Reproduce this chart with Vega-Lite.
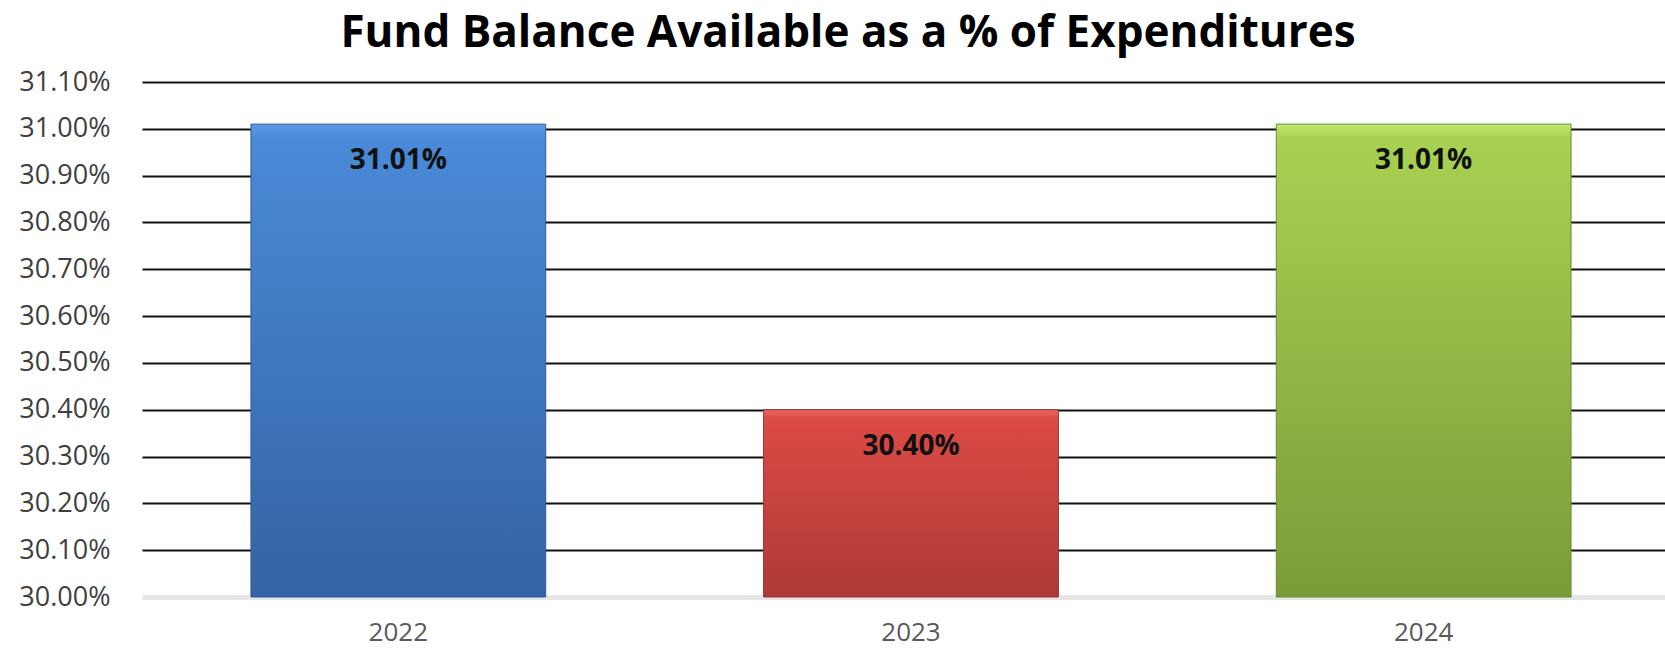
{
  "$schema": "https://vega.github.io/schema/vega-lite/v6.json",
  "autosize": "none",
  "padding": {"left": 142, "top": 82, "right": 0, "bottom": 51},
  "width": 1538,
  "height": 515,
  "background": "white",
  "title": {
    "text": "Fund Balance Available  as a % of Expenditures",
    "font": "Open Sans",
    "fontSize": 44,
    "fontWeight": "bold",
    "color": "#000000",
    "anchor": "middle",
    "dx": -63,
    "offset": 12
  },
  "data": {
    "values": [
      {"year": "2022", "value": 0.3101},
      {"year": "2023", "value": 0.3040},
      {"year": "2024", "value": 0.3101}
    ]
  },
  "encoding": {
    "x": {
      "field": "year",
      "type": "nominal",
      "sort": null,
      "scale": {"paddingInner": 0.425, "paddingOuter": 0.2125},
      "axis": {
        "title": null,
        "domain": false,
        "ticks": false,
        "labelAngle": 0,
        "labelFont": "Open Sans",
        "labelFontSize": 26,
        "labelColor": "#595959",
        "labelPadding": 22
      }
    },
    "y": {
      "field": "value",
      "type": "quantitative",
      "scale": {"domain": [0.30, 0.311], "zero": false, "nice": false},
      "axis": {
        "title": null,
        "domain": false,
        "ticks": false,
        "format": ".2%",
        "values": [0.300, 0.301, 0.302, 0.303, 0.304, 0.305, 0.306, 0.307, 0.308, 0.309, 0.310, 0.311],
        "labelFont": "Open Sans",
        "labelFontSize": 27,
        "labelColor": "#404040",
        "labelPadding": 32,
        "grid": true,
        "gridColor": {"condition": {"test": "datum.value == 0.3", "value": "#e6e6e6"}, "value": "#111111"},
        "gridWidth": {"condition": {"test": "datum.value == 0.3", "value": 5}, "value": 2}
      }
    }
  },
  "layer": [
    {
      "transform": [{"filter": "datum.year == '2022'"}],
      "mark": {
        "type": "bar",
        "stroke": "#2f5b92",
        "strokeWidth": 1,
        "color": {"gradient": "linear", "x1": 0, "y1": 0, "x2": 0, "y2": 1,
          "stops": [{"offset": 0, "color": "#5a9ae6"}, {"offset": 0.03, "color": "#4a8ad8"}, {"offset": 1, "color": "#3463a3"}]}
      },
      "encoding": {"y2": {"datum": 0.30}}
    },
    {
      "transform": [{"filter": "datum.year == '2023'"}],
      "mark": {
        "type": "bar",
        "stroke": "#9a3330",
        "strokeWidth": 1,
        "color": {"gradient": "linear", "x1": 0, "y1": 0, "x2": 0, "y2": 1,
          "stops": [{"offset": 0, "color": "#ec6763"}, {"offset": 0.05, "color": "#dc4a45"}, {"offset": 1, "color": "#ad3a36"}]}
      },
      "encoding": {"y2": {"datum": 0.30}}
    },
    {
      "transform": [{"filter": "datum.year == '2024'"}],
      "mark": {
        "type": "bar",
        "stroke": "#6d8a33",
        "strokeWidth": 1,
        "color": {"gradient": "linear", "x1": 0, "y1": 0, "x2": 0, "y2": 1,
          "stops": [{"offset": 0, "color": "#c0e870"}, {"offset": 0.03, "color": "#a8d152"}, {"offset": 1, "color": "#7b9b39"}]}
      },
      "encoding": {"y2": {"datum": 0.30}}
    },
    {
      "mark": {
        "type": "text",
        "font": "Open Sans",
        "fontSize": 28,
        "fontWeight": "bold",
        "color": "#111111",
        "baseline": "middle",
        "dy": 37
      },
      "encoding": {
        "text": {"field": "value", "type": "quantitative", "format": ".2%"}
      }
    }
  ],
  "config": {
    "view": {"stroke": null}
  }
}
